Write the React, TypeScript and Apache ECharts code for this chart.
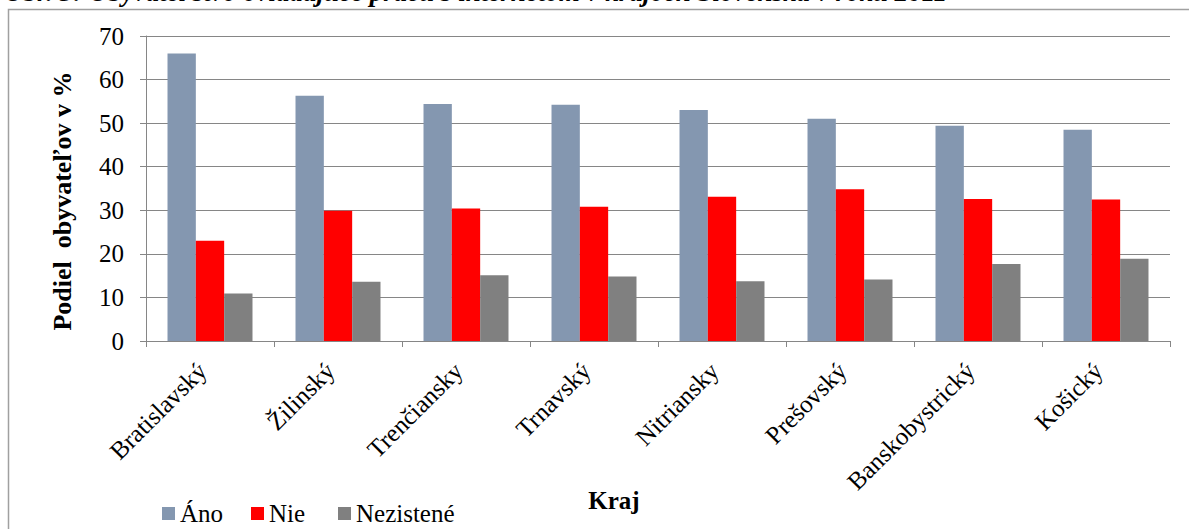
import React, { useEffect, useRef } from "react";
import * as echarts from "echarts";

const categories = ["Bratislavský", "Žilinský", "Trenčiansky", "Trnavský", "Nitriansky", "Prešovský", "Banskobystrický", "Košický"];
const ano = [66.0, 56.3, 54.4, 54.2, 53.0, 51.0, 49.4, 48.5];
const nie = [23.0, 29.9, 30.4, 30.8, 33.1, 34.8, 32.6, 32.5];
const nezistene = [10.9, 13.6, 15.1, 14.8, 13.7, 14.1, 17.7, 18.9];
const seriesNames = ["Áno", "Nie", "Nezistené"];
const colors = ["#8497B0", "#FF0000", "#808080"];
const yTicks = { min: 0, max: 70, interval: 10 };
const titleText = "Obr. 5: Obyvateľstvo ovládajúce prácu s internetom v krajoch Slovenska v roku 2011";
const yName = "Podiel  obyvateľov v %";
const xName = "Kraj";

const FONT = "'Liberation Serif', 'Times New Roman', serif";

export default function App() {
  const ref = useRef<HTMLDivElement>(null);
  useEffect(() => {
    document.body.style.margin = "0";
    const chart = echarts.init(ref.current!, null, { renderer: "svg" });
    const values = [ano, nie, nezistene];
    const legendX = [162, 251, 338];
    chart.setOption({
      animation: false,
      backgroundColor: "#ffffff",
      grid: { left: 146, right: 19, top: 36, bottom: 188, containLabel: false },
      xAxis: {
        type: "category",
        data: categories,
        boundaryGap: true,
        axisLine: { lineStyle: { color: "#868686", width: 1 } },
        axisTick: { show: true, length: 6, lineStyle: { color: "#868686" } },
        axisLabel: { rotate: 45, margin: 18, padding: [0, 11, 0, 0], fontFamily: FONT, fontSize: 25, color: "#000", interval: 0 },
      },
      yAxis: {
        type: "value",
        min: yTicks.min,
        max: yTicks.max,
        interval: yTicks.interval,
        axisLine: { show: true, lineStyle: { color: "#868686", width: 1 } },
        axisTick: { show: true, length: 6, lineStyle: { color: "#868686" } },
        axisLabel: { margin: 22, fontFamily: FONT, fontSize: 25, color: "#000" },
        splitLine: { show: true, lineStyle: { color: "#868686", width: 1 } },
      },
      legend: seriesNames.map((n, i) => ({
        data: [n],
        left: legendX[i],
        top: 501,
        icon: "rect",
        itemWidth: 13,
        itemHeight: 13,
        itemGap: 5,
        padding: 0,
        textStyle: { fontFamily: FONT, fontSize: 25, color: "#000", padding: [0, 0, 0, 0] },
      })),
      series: seriesNames.map((n, i) => ({
        name: n,
        type: "bar",
        data: values[i],
        barGap: "0%",
        barCategoryGap: "33.6%",
        itemStyle: { color: colors[i] },
      })),
      graphic: [
        {
          type: "rect",
          shape: { x: 8.5, y: 9.5, width: 1300, height: 700 },
          style: { fill: "none", stroke: "#A0A0A0", lineWidth: 1.5 },
          z: -1,
        },
        {
          type: "text",
          x: 4,
          y: 5,
          style: { text: titleText, fontFamily: FONT, fontSize: 27, fontWeight: "bold", fontStyle: "italic", fill: "#000", verticalAlign: "bottom", align: "left" },
        },
        {
          type: "text",
          x: 62,
          y: 201,
          rotation: Math.PI / 2,
          style: { text: yName, fontFamily: FONT, fontSize: 26, fontWeight: "bold", fill: "#000", align: "center", verticalAlign: "middle" },
        },
        {
          type: "text",
          x: 614,
          y: 500,
          style: { text: xName, fontFamily: FONT, fontSize: 25, fontWeight: "bold", fill: "#000", align: "center", verticalAlign: "middle" },
        },
      ],
    });
    return () => chart.dispose();
  }, []);
  return <div ref={ref} style={{ width: 1189, height: 529 }} />;
}
